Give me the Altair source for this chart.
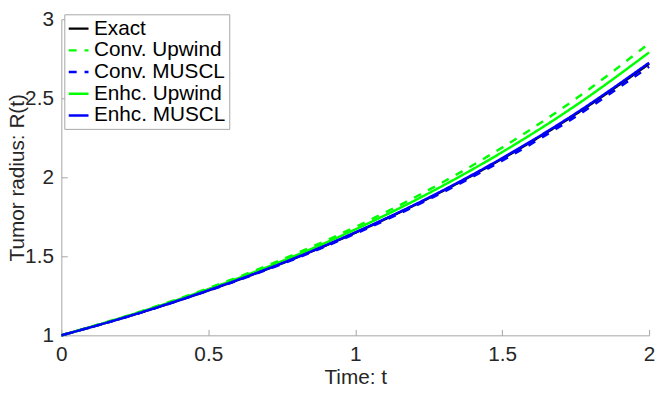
import altair as alt
import pandas as pd

# ---- data ----
t = [0.0, 0.25, 0.5, 0.75, 1.0, 1.25, 1.5, 1.75, 2.0]
exact = [1.000, 1.133, 1.284, 1.455, 1.649, 1.868, 2.117, 2.399, 2.718]
conv_upwind = [1.000, 1.139, 1.298, 1.479, 1.685, 1.920, 2.188, 2.496, 2.847]
conv_muscl = [1.000, 1.132, 1.282, 1.451, 1.643, 1.860, 2.105, 2.384, 2.700]
enhc_upwind = [1.000, 1.137, 1.292, 1.469, 1.670, 1.899, 2.159, 2.454, 2.790]
enhc_muscl = [1.000, 1.133, 1.285, 1.456, 1.651, 1.871, 2.121, 2.404, 2.725]

series_names = ["Exact", "Conv. Upwind", "Conv. MUSCL", "Enhc. Upwind", "Enhc. MUSCL"]
series_colors = ["#000000", "#00ff00", "#0000ff", "#00ff00", "#0000ff"]
series_dash = [[1, 0], [8, 8], [8, 8], [1, 0], [1, 0]]

x_ticks = [0, 0.5, 1, 1.5, 2]
y_ticks = [1, 1.5, 2, 2.5, 3]

rows = []
for name, vals in zip(series_names, [exact, conv_upwind, conv_muscl, enhc_upwind, enhc_muscl]):
    for ti, v in zip(t, vals):
        rows.append({"t": ti, "R": v, "series": name})
df = pd.DataFrame(rows)

W, H = 595, 320
AX = "#a6a6a6"
TXT = "#262626"
FONT = "Liberation Sans"

xscale = alt.Scale(domain=[0, 2], nice=False, zero=False)
yscale = alt.Scale(domain=[1, 3], nice=False, zero=False)

x_main = alt.X(
    "t:Q", scale=xscale,
    axis=alt.Axis(values=x_ticks, format=".1~f", title="Time: t", grid=False, ticks=False,
                  domainColor=AX, labelFontSize=21, labelPadding=8, labelColor=TXT,
                  labelFlush=False, labelOverlap=False,
                  titleFontSize=21, titleFontWeight="normal", titleColor=TXT,
                  titleY=49, titleBaseline="alphabetic"),
)
y_main = alt.Y(
    "R:Q", scale=yscale,
    axis=alt.Axis(values=y_ticks, format=".1~f", title="Tumor radius: R(t)", grid=False, ticks=False,
                  domainColor=AX, labelFontSize=21, labelPadding=8, labelColor=TXT,
                  labelOverlap=False,
                  titleFontSize=21, titleFontWeight="normal", titleColor=TXT,
                  titleX=-38, titleY=160, titleAngle=270, titleBaseline="alphabetic",
                  titleAlign="center"),
)
x_plain = alt.X("t:Q", scale=xscale, axis=None)
y_plain = alt.Y("R:Q", scale=yscale, axis=None)

color = alt.Color("series:N", scale=alt.Scale(domain=series_names, range=series_colors), title=None)
dash = alt.StrokeDash("series:N", scale=alt.Scale(domain=series_names, range=series_dash), title=None)

layers = []
for i, name in enumerate(series_names):
    layers.append(
        alt.Chart(df)
        .transform_filter(alt.datum.series == name)
        .mark_line(strokeWidth=2.5, interpolate="monotone")
        .encode(x=x_main if i == 0 else x_plain,
                y=y_main if i == 0 else y_plain,
                color=color, strokeDash=dash)
    )

# inward-pointing ticks (MATLAB style)
tick_layer = (
    alt.Chart(df)
    .transform_filter(alt.datum.series == "Exact")
    .mark_line(opacity=0)
    .encode(
        x=alt.X("t:Q", scale=xscale,
                axis=alt.Axis(orient="top", offset=-H, values=x_ticks, labels=False, domain=False,
                              ticks=True, tickSize=6, tickColor=AX, grid=False, title=None)),
        y=alt.Y("R:Q", scale=yscale,
                axis=alt.Axis(orient="right", offset=-W, values=y_ticks, labels=False, domain=False,
                              ticks=True, tickSize=6, tickColor=AX, grid=False, title=None)),
    )
)

chart = (
    alt.layer(*layers, tick_layer)
    .resolve_axis(x="independent", y="independent")
    .properties(width=W, height=H, autosize=alt.AutoSizeParams(type="none"),
                padding={"left": 54, "top": 9, "right": 7, "bottom": 57})
    .configure(font=FONT)
    .configure_view(stroke=None)
    .configure_legend(orient="none", legendX=3, legendY=-5, strokeColor=AX, fillColor="white",
                      padding=3, labelFontSize=21, labelColor="#000000", labelFont=FONT,
                      symbolType="stroke", symbolSize=400, symbolStrokeWidth=2.5,
                      rowPadding=0, labelOffset=4, cornerRadius=0)
)

chart.save("out.html", embed_options={"renderer": "svg", "actions": False})
